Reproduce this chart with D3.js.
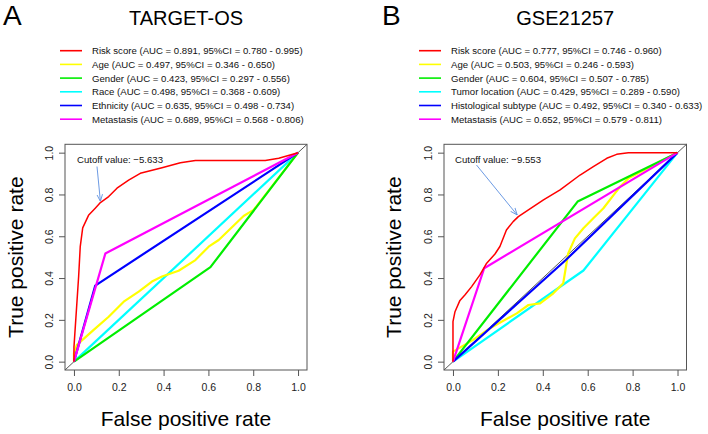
<!DOCTYPE html>
<html>
<head>
<meta charset="utf-8">
<script src="https://cdn.jsdelivr.net/npm/d3@7"></script>
<style>
  body { margin: 0; background: #fff; }
  svg { font-family: "Liberation Sans", Arial, Helvetica, sans-serif; }
</style>
</head>
<body>
<svg id="chart" width="708" height="434"></svg>
<script>
// colours used by both panels, same order as the legends
var seriesColors = ["#FF0000", "#FFFF00", "#00EE00", "#00FFFF", "#0000FF", "#FF00FF"];
var axisTicks = [0, 0.2, 0.4, 0.6, 0.8, 1.0];

// ---- panel A: TARGET-OS ----
var labelsA = [
  "Risk score (AUC = 0.891, 95%CI = 0.780 - 0.995)",
  "Age (AUC = 0.497, 95%CI = 0.346 - 0.650)",
  "Gender (AUC = 0.423, 95%CI = 0.297 - 0.556)",
  "Race (AUC = 0.498, 95%CI = 0.368 - 0.609)",
  "Ethnicity (AUC = 0.635, 95%CI = 0.498 - 0.734)",
  "Metastasis (AUC = 0.689, 95%CI = 0.568 - 0.806)"
];
var riskA = [[0,0],[0,0.07],[0.021,0.41],[0.028,0.55],[0.039,0.64],[0.065,0.70],[0.095,0.734],[0.118,0.761],
  [0.155,0.79],[0.192,0.83],[0.244,0.869],[0.296,0.901],[0.393,0.928],[0.475,0.952],[0.542,0.962],
  [0.854,0.962],[0.914,0.973],[1,1]];
var ageA = [[0,0],[0,0.04],[0.013,0.08],[0.088,0.152],[0.155,0.215],[0.222,0.287],[0.289,0.335],[0.348,0.383],
  [0.393,0.407],[0.467,0.435],[0.542,0.486],[0.601,0.55],[0.646,0.582],[0.705,0.643],[0.757,0.697],
  [0.802,0.726],[1,1]];
var genderA = [[0,0],[0.609,0.452],[1,1]];
var raceA = [[0,0],[1,1]];
var ethnicityA = [[0,0],[0.095,0.364],[1,1]];
var metastasisA = [[0,0],[0.14,0.517],[1,1]];
var cutoffA = {label: "Cutoff value:  \u22125.633", fpr: 0.118, tpr: 0.762};

// ---- panel B: GSE21257 ----
var labelsB = [
  "Risk score (AUC = 0.777, 95%CI = 0.746 - 0.960)",
  "Age (AUC = 0.503, 95%CI = 0.246 - 0.593)",
  "Gender (AUC = 0.604, 95%CI = 0.507 - 0.785)",
  "Tumor location (AUC = 0.429, 95%CI = 0.289 - 0.590)",
  "Histological subtype (AUC = 0.492, 95%CI = 0.340 - 0.633)",
  "Metastasis (AUC = 0.652, 95%CI = 0.579 - 0.811)"
];
var riskB = [[0,0],[0,0.191],[0.009,0.239],[0.031,0.293],[0.053,0.319],[0.083,0.359],[0.12,0.415],[0.15,0.471],
  [0.187,0.515],[0.209,0.551],[0.238,0.63],[0.268,0.67],[0.291,0.694],[0.336,0.726],[0.403,0.774],
  [0.477,0.822],[0.566,0.893],[0.625,0.933],[0.685,0.973],[0.729,0.992],[0.781,1],[1,1]];
var ageB = [[0,0],[0,0.048],[0.09,0.104],[0.165,0.16],[0.284,0.231],[0.336,0.271],[0.388,0.279],[0.447,0.327],
  [0.491,0.375],[0.513,0.518],[0.543,0.59],[0.581,0.638],[0.625,0.686],[0.67,0.734],[0.715,0.797],
  [0.744,0.837],[0.781,0.877],[1,1]];
var genderB = [[0,0],[0.555,0.766],[1,1]];
var locationB = [[0,0],[0.581,0.436],[1,1]];
var subtypeB = [[0,0],[0.5,0.484],[1,1]];
var metastasisB = [[0,0],[0.139,0.447],[1,1]];
var cutoffB = {label: "Cutoff value:  \u22129.553", fpr: 0.286, tpr: 0.697};

var svg = d3.select("#chart");

svg.append("defs").append("marker")
    .attr("id", "arrowhead")
    .attr("viewBox", "0 -5 10 10")
    .attr("refX", 10).attr("refY", 0)
    .attr("markerWidth", 7).attr("markerHeight", 7)
    .attr("markerUnits", "userSpaceOnUse")
    .attr("orient", "auto")
  .append("path")
    .attr("d", "M0,-4L10,0L0,4")
    .attr("fill", "none")
    .attr("stroke", "#5B8FE0")
    .attr("stroke-width", 1.2);

var drawPanel = function (p) {
    var x = d3.scaleLinear().domain([-0.04, 1.04]).range([p.left, p.right]);
    var y = d3.scaleLinear().domain([-0.04, 1.04]).range([p.bottom, p.top]);
    var g = svg.append("g");

    // panel letter and title
    g.append("text").attr("x", p.letterX).attr("y", 25)
        .attr("font-size", 28).text(p.letter);
    g.append("text").attr("x", (p.left + p.right) / 2).attr("y", 25)
        .attr("text-anchor", "middle").attr("font-size", 20).text(p.title);

    // legend
    var leg = g.selectAll(".leg").data(p.labels).enter().append("g")
        .attr("transform", function (d, i) { return "translate(0," + (50.7 + i * 13.7) + ")"; });
    leg.append("line").attr("x1", p.legX).attr("x2", p.legX + 22)
        .attr("stroke", function (d, i) { return seriesColors[i]; })
        .attr("stroke-width", 1.6);
    leg.append("text").attr("x", p.legX + 32).attr("y", 3.4)
        .attr("font-size", 9.6).attr("fill", "#111").text(function (d) { return d; });

    // diagonal reference line
    g.append("line")
        .attr("x1", x(-0.04)).attr("y1", y(-0.04))
        .attr("x2", x(1.04)).attr("y2", y(1.04))
        .attr("stroke", "#444").attr("stroke-width", 0.9);

    var line = d3.line().x(function (d) { return x(d[0]); }).y(function (d) { return y(d[1]); });
    // draw order: risk score last so it stays on top like in the original
    var order = [3, 1, 2, 4, 5, 0];
    order.forEach(function (i) {
        g.append("path").datum(p.series[i])
            .attr("d", line)
            .attr("fill", "none")
            .attr("stroke", seriesColors[i])
            .attr("stroke-width", i === 0 ? 1.5 : 2.2)
            .attr("stroke-linejoin", "round");
    });

    // cutoff annotation
    g.append("text").attr("x", p.cutX).attr("y", 162.7)
        .attr("font-size", 9.6).attr("fill", "#111").text(p.cutoff.label);
    g.append("line")
        .attr("x1", p.arrowFrom[0]).attr("y1", p.arrowFrom[1])
        .attr("x2", x(p.cutoff.fpr)).attr("y2", y(p.cutoff.tpr) - 1)
        .attr("stroke", "#5B8FE0").attr("stroke-width", 0.9)
        .attr("marker-end", "url(#arrowhead)");

    // box
    g.append("rect")
        .attr("x", p.left).attr("y", p.top)
        .attr("width", p.right - p.left).attr("height", p.bottom - p.top)
        .attr("fill", "none").attr("stroke", "#555").attr("stroke-width", 1);

    // axes
    var xa = g.append("g").attr("transform", "translate(0," + p.bottom + ")")
        .call(d3.axisBottom(x).tickValues(axisTicks).tickSize(6).tickFormat(d3.format(".1f")));
    xa.select(".domain").remove();
    xa.selectAll(".tick line").attr("stroke", "#555");
    xa.selectAll(".tick text").attr("y", 20.5).attr("dy", 0)
        .attr("font-size", 10.5).attr("fill", "#222")
        .attr("font-family", "Liberation Sans, Arial, sans-serif");

    var ya = g.append("g").attr("transform", "translate(" + p.left + ",0)")
        .call(d3.axisLeft(y).tickValues(axisTicks).tickSize(6).tickFormat(d3.format(".1f")));
    ya.select(".domain").remove();
    ya.selectAll(".tick line").attr("stroke", "#555");
    ya.selectAll(".tick text").attr("transform", "rotate(-90)")
        .attr("x", 0).attr("y", -12.5).attr("dy", 0)
        .attr("text-anchor", "middle")
        .attr("font-size", 10.5).attr("fill", "#222")
        .attr("font-family", "Liberation Sans, Arial, sans-serif");

    // axis titles
    g.append("text").attr("x", (p.left + p.right) / 2).attr("y", 425.5)
        .attr("text-anchor", "middle").attr("font-size", 21).text("False positive rate");
    g.append("text")
        .attr("transform", "translate(" + p.ylabX + "," + ((p.top + p.bottom) / 2) + ") rotate(-90)")
        .attr("text-anchor", "middle").attr("font-size", 21).text("True positive rate");
};

drawPanel({
    letter: "A", letterX: 3, title: "TARGET-OS",
    left: 65, right: 307, top: 144.3, bottom: 370,
    legX: 60, labels: labelsA,
    series: [riskA, ageA, genderA, raceA, ethnicityA, metastasisA],
    cutoff: cutoffA, cutX: 77, arrowFrom: [97, 166.5],
    ylabX: 23
});

drawPanel({
    letter: "B", letterX: 382, title: "GSE21257",
    left: 444, right: 686.5, top: 144.3, bottom: 370,
    legX: 419, labels: labelsB,
    series: [riskB, ageB, genderB, locationB, subtypeB, metastasisB],
    cutoff: cutoffB, cutX: 455, arrowFrom: [476.5, 165],
    ylabX: 401
});
</script>
</body>
</html>
